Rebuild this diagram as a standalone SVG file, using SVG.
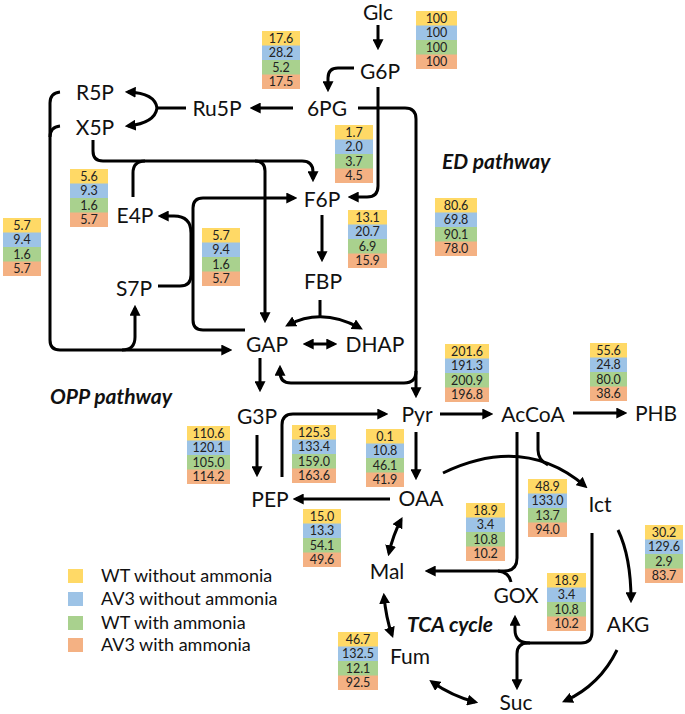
<svg xmlns="http://www.w3.org/2000/svg" width="685" height="714" viewBox="0 0 685 714">
<style>
.nd{font-family:Lato,"Liberation Sans",sans-serif;font-size:21px;fill:#111;text-anchor:middle}
.pw{font-family:Lato,"Liberation Sans",sans-serif;font-size:21px;font-weight:bold;font-style:italic;fill:#111}
.lg{font-family:Lato,"Liberation Sans",sans-serif;font-size:18px;fill:#111}
.n{font-family:Lato,"Liberation Sans",sans-serif;font-size:12.5px;fill:#222;text-anchor:middle}
.y{fill:#FFD966}.b{fill:#9DC3E6}.g{fill:#A9D18E}.o{fill:#F4B183}
.c path{fill:none;stroke:#000;stroke-width:3}
.a{marker-end:url(#ah)}
.d{marker-start:url(#ah);marker-end:url(#ah)}
</style>
<defs>
<marker id="ah" viewBox="0 0 10 10" refX="7" refY="5" markerWidth="11" markerHeight="11" markerUnits="userSpaceOnUse" orient="auto-start-reverse">
<path d="M0,0 L10,5 L0,10 Z" fill="#000"/>
</marker>
</defs>
<rect width="685" height="714" fill="#fff"/>

<g id="connectors" class="c">
<path class="a" d="M378,25 V47"/>
<path class="a" d="M354,68 H338 Q328,68 328,78 V89"/>
<path class="a" d="M293,108 H253"/>
<path d="M186,108 H157"/>
<path class="a" d="M157,108 Q155,93 128,92"/>
<path class="a" d="M157,108 Q155,123 128,126"/>
<path class="a" d="M60,92 Q50,93 50,103 V340 Q50,350 60,350 H229"/>
<path d="M60,126 Q50,127 50,137"/>
<path class="a" d="M122,350 Q135,350 135,337 V308"/>
<path class="a" d="M93,140 V151 Q93,161 103,161 H302 Q313,161 313,172 V179"/>
<path d="M133,197 V173 Q133,161 145,161"/>
<path class="a" d="M255,161 Q265,161 265,171 V320"/>
<path class="a" d="M245,330 H203 Q193,330 193,320 V208 Q193,198 203,198 H294"/>
<path class="a" d="M158,286 H180 Q191,286 191,275 V233 Q191,216 174,216 H161"/>
<path class="a" d="M378,87 V186 Q378,197 367,197 H351"/>
<path class="a" d="M358,108 H405 Q416,108 416,119 V395"/>
<path class="a" d="M416,371 Q416,383 404,383 H291 Q280,383 280,372 V368"/>
<path class="a" d="M322,215 V259"/>
<path d="M320,300 V316"/>
<path class="d" d="M288,325 Q322,307 360,328"/>
<path class="d" d="M306,344 H334"/>
<path class="a" d="M260,358 V389"/>
<path class="a" d="M257,435 V474"/>
<path class="a" d="M282,477 V425 Q282,414 293,414 H385"/>
<path class="a" d="M390,499 H296"/>
<path class="a" d="M416,432 V477"/>
<path class="a" d="M440,414 H490"/>
<path class="a" d="M573,413 H624"/>
<path class="a" d="M443,473 Q524,434 585,486"/>
<path d="M538,432 V450 Q538,460 548,465"/>
<path class="a" d="M517,432 V558 Q517,571 504,571 H428"/>
<path d="M511,582 Q509,572 498,571"/>
<path class="a" d="M592,533 V632 Q592,643 581,643 H528 Q517,643 517,654 V687"/>
<path class="a" d="M530,643 Q515,643 515,630 V618"/>
<path class="a" d="M618,530 Q631,557 631,600"/>
<path class="a" d="M617,650 Q600,685 565,701"/>
<path class="d" d="M432,682 Q452,696 475,702"/>
<path class="d" d="M384,596 Q386,618 392,635"/>
<path class="d" d="M401,520 Q393,535 389,553"/>
</g>

<g id="node-Glc"><text class="nd" x="378" y="20">Glc</text></g>
<g id="node-G6P"><text class="nd" x="380" y="79">G6P</text></g>
<g id="node-6PG"><text class="nd" x="327" y="116">6PG</text></g>
<g id="node-Ru5P"><text class="nd" x="217" y="116">Ru5P</text></g>
<g id="node-R5P"><text class="nd" x="95" y="100">R5P</text></g>
<g id="node-X5P"><text class="nd" x="95" y="135">X5P</text></g>
<g id="node-F6P"><text class="nd" x="322" y="207">F6P</text></g>
<g id="node-E4P"><text class="nd" x="135" y="223">E4P</text></g>
<g id="node-S7P"><text class="nd" x="134" y="296">S7P</text></g>
<g id="node-FBP"><text class="nd" x="323" y="289">FBP</text></g>
<g id="node-GAP"><text class="nd" x="267" y="352">GAP</text></g>
<g id="node-DHAP"><text class="nd" x="375" y="352">DHAP</text></g>
<g id="node-G3P"><text class="nd" x="257" y="424">G3P</text></g>
<g id="node-PEP"><text class="nd" x="270" y="507">PEP</text></g>
<g id="node-Pyr"><text class="nd" x="417" y="422">Pyr</text></g>
<g id="node-AcCoA"><text class="nd" x="533" y="422">AcCoA</text></g>
<g id="node-PHB"><text class="nd" x="656" y="421">PHB</text></g>
<g id="node-OAA"><text class="nd" x="421" y="506">OAA</text></g>
<g id="node-Ict"><text class="nd" x="600" y="512">Ict</text></g>
<g id="node-Mal"><text class="nd" x="387" y="579">Mal</text></g>
<g id="node-GOX"><text class="nd" x="516" y="603">GOX</text></g>
<g id="node-AKG"><text class="nd" x="628" y="632">AKG</text></g>
<g id="node-Fum"><text class="nd" x="410" y="664">Fum</text></g>
<g id="node-Suc"><text class="nd" x="516" y="710">Suc</text></g>

<g id="labels">
<text class="pw" x="442" y="169">ED pathway</text>
<text class="pw" x="50" y="404">OPP pathway</text>
<text class="pw" x="407" y="632">TCA cycle</text>
</g>

<g id="box-100" transform="translate(416,11)"><rect class="y" width="41" height="15"/><rect class="b" y="14.5" width="41" height="15"/><rect class="g" y="29" width="41" height="15"/><rect class="o" y="43.5" width="41" height="14.5"/><text class="n" x="20.5" y="11.5">100</text><text class="n" x="20.5" y="26">100</text><text class="n" x="20.5" y="40.5">100</text><text class="n" x="20.5" y="55">100</text></g>
<g id="box-176" transform="translate(262,31)"><rect class="y" width="38" height="15"/><rect class="b" y="14.5" width="38" height="15"/><rect class="g" y="29" width="38" height="15"/><rect class="o" y="43.5" width="38" height="14.5"/><text class="n" x="19" y="11.5">17.6</text><text class="n" x="19" y="26">28.2</text><text class="n" x="19" y="40.5">5.2</text><text class="n" x="19" y="55">17.5</text></g>
<g id="box-17" transform="translate(335,125)"><rect class="y" width="38" height="15"/><rect class="b" y="14.5" width="38" height="15"/><rect class="g" y="29" width="38" height="15"/><rect class="o" y="43.5" width="38" height="14.5"/><text class="n" x="19" y="11.5">1.7</text><text class="n" x="19" y="26">2.0</text><text class="n" x="19" y="40.5">3.7</text><text class="n" x="19" y="55">4.5</text></g>
<g id="box-56" transform="translate(70,169)"><rect class="y" width="38" height="15"/><rect class="b" y="14.5" width="38" height="15"/><rect class="g" y="29" width="38" height="15"/><rect class="o" y="43.5" width="38" height="14.5"/><text class="n" x="19" y="11.5">5.6</text><text class="n" x="19" y="26">9.3</text><text class="n" x="19" y="40.5">1.6</text><text class="n" x="19" y="55">5.7</text></g>
<g id="box-57a" transform="translate(3,218)"><rect class="y" width="38" height="15"/><rect class="b" y="14.5" width="38" height="15"/><rect class="g" y="29" width="38" height="15"/><rect class="o" y="43.5" width="38" height="14.5"/><text class="n" x="19" y="11.5">5.7</text><text class="n" x="19" y="26">9.4</text><text class="n" x="19" y="40.5">1.6</text><text class="n" x="19" y="55">5.7</text></g>
<g id="box-806" transform="translate(435,198)"><rect class="y" width="42" height="15"/><rect class="b" y="14.5" width="42" height="15"/><rect class="g" y="29" width="42" height="15"/><rect class="o" y="43.5" width="42" height="14.5"/><text class="n" x="21" y="11.5">80.6</text><text class="n" x="21" y="26">69.8</text><text class="n" x="21" y="40.5">90.1</text><text class="n" x="21" y="55">78.0</text></g>
<g id="box-57b" transform="translate(202,228)"><rect class="y" width="38" height="15"/><rect class="b" y="14.5" width="38" height="15"/><rect class="g" y="29" width="38" height="15"/><rect class="o" y="43.5" width="38" height="14.5"/><text class="n" x="19" y="11.5">5.7</text><text class="n" x="19" y="26">9.4</text><text class="n" x="19" y="40.5">1.6</text><text class="n" x="19" y="55">5.7</text></g>
<g id="box-131" transform="translate(348,210)"><rect class="y" width="39" height="15"/><rect class="b" y="14.5" width="39" height="15"/><rect class="g" y="29" width="39" height="15"/><rect class="o" y="43.5" width="39" height="14.5"/><text class="n" x="19.5" y="11.5">13.1</text><text class="n" x="19.5" y="26">20.7</text><text class="n" x="19.5" y="40.5">6.9</text><text class="n" x="19.5" y="55">15.9</text></g>
<g id="box-2016" transform="translate(445,344)"><rect class="y" width="44" height="15"/><rect class="b" y="14.5" width="44" height="15"/><rect class="g" y="29" width="44" height="15"/><rect class="o" y="43.5" width="44" height="14.5"/><text class="n" x="22" y="11.5">201.6</text><text class="n" x="22" y="26">191.3</text><text class="n" x="22" y="40.5">200.9</text><text class="n" x="22" y="55">196.8</text></g>
<g id="box-556" transform="translate(590,343)"><rect class="y" width="37" height="15"/><rect class="b" y="14.5" width="37" height="15"/><rect class="g" y="29" width="37" height="15"/><rect class="o" y="43.5" width="37" height="14.5"/><text class="n" x="18.5" y="11.5">55.6</text><text class="n" x="18.5" y="26">24.8</text><text class="n" x="18.5" y="40.5">80.0</text><text class="n" x="18.5" y="55">38.6</text></g>
<g id="box-1106" transform="translate(187,426)"><rect class="y" width="43" height="15"/><rect class="b" y="14.5" width="43" height="15"/><rect class="g" y="29" width="43" height="15"/><rect class="o" y="43.5" width="43" height="14.5"/><text class="n" x="21.5" y="11.5">110.6</text><text class="n" x="21.5" y="26">120.1</text><text class="n" x="21.5" y="40.5">105.0</text><text class="n" x="21.5" y="55">114.2</text></g>
<g id="box-1253" transform="translate(292,425)"><rect class="y" width="44" height="15"/><rect class="b" y="14.5" width="44" height="15"/><rect class="g" y="29" width="44" height="15"/><rect class="o" y="43.5" width="44" height="14.5"/><text class="n" x="22" y="11.5">125.3</text><text class="n" x="22" y="26">133.4</text><text class="n" x="22" y="40.5">159.0</text><text class="n" x="22" y="55">163.6</text></g>
<g id="box-01" transform="translate(366,429)"><rect class="y" width="38" height="15"/><rect class="b" y="14.5" width="38" height="15"/><rect class="g" y="29" width="38" height="15"/><rect class="o" y="43.5" width="38" height="14.5"/><text class="n" x="19" y="11.5">0.1</text><text class="n" x="19" y="26">10.8</text><text class="n" x="19" y="40.5">46.1</text><text class="n" x="19" y="55">41.9</text></g>
<g id="box-150" transform="translate(303,509)"><rect class="y" width="38" height="15"/><rect class="b" y="14.5" width="38" height="15"/><rect class="g" y="29" width="38" height="15"/><rect class="o" y="43.5" width="38" height="14.5"/><text class="n" x="19" y="11.5">15.0</text><text class="n" x="19" y="26">13.3</text><text class="n" x="19" y="40.5">54.1</text><text class="n" x="19" y="55">49.6</text></g>
<g id="box-489" transform="translate(528,479)"><rect class="y" width="39" height="15"/><rect class="b" y="14.5" width="39" height="15"/><rect class="g" y="29" width="39" height="15"/><rect class="o" y="43.5" width="39" height="14.5"/><text class="n" x="19.5" y="11.5">48.9</text><text class="n" x="19.5" y="26">133.0</text><text class="n" x="19.5" y="40.5">13.7</text><text class="n" x="19.5" y="55">94.0</text></g>
<g id="box-189a" transform="translate(466,503)"><rect class="y" width="39" height="15"/><rect class="b" y="14.5" width="39" height="15"/><rect class="g" y="29" width="39" height="15"/><rect class="o" y="43.5" width="39" height="14.5"/><text class="n" x="19.5" y="11.5">18.9</text><text class="n" x="19.5" y="26">3.4</text><text class="n" x="19.5" y="40.5">10.8</text><text class="n" x="19.5" y="55">10.2</text></g>
<g id="box-189b" transform="translate(547,573)"><rect class="y" width="39" height="15"/><rect class="b" y="14.5" width="39" height="15"/><rect class="g" y="29" width="39" height="15"/><rect class="o" y="43.5" width="39" height="14.5"/><text class="n" x="19.5" y="11.5">18.9</text><text class="n" x="19.5" y="26">3.4</text><text class="n" x="19.5" y="40.5">10.8</text><text class="n" x="19.5" y="55">10.2</text></g>
<g id="box-302" transform="translate(645,525)"><rect class="y" width="38" height="15"/><rect class="b" y="14.5" width="38" height="15"/><rect class="g" y="29" width="38" height="15"/><rect class="o" y="43.5" width="38" height="14.5"/><text class="n" x="19" y="11.5">30.2</text><text class="n" x="19" y="26">129.6</text><text class="n" x="19" y="40.5">2.9</text><text class="n" x="19" y="55">83.7</text></g>
<g id="box-467" transform="translate(338,632)"><rect class="y" width="40" height="15"/><rect class="b" y="14.5" width="40" height="15"/><rect class="g" y="29" width="40" height="15"/><rect class="o" y="43.5" width="40" height="14.5"/><text class="n" x="20" y="11.5">46.7</text><text class="n" x="20" y="26">132.5</text><text class="n" x="20" y="40.5">12.1</text><text class="n" x="20" y="55">92.5</text></g>

<g id="legend">
<rect class="y" x="68" y="569" width="15" height="14"/>
<rect class="b" x="68" y="592" width="15" height="14"/>
<rect class="g" x="68" y="616" width="15" height="14"/>
<rect class="o" x="68" y="638" width="15" height="14"/>
<text class="lg" x="101" y="582">WT without ammonia</text>
<text class="lg" x="101" y="605">AV3 without ammonia</text>
<text class="lg" x="101" y="629">WT with ammonia</text>
<text class="lg" x="101" y="651">AV3 with ammonia</text>
</g>
</svg>
